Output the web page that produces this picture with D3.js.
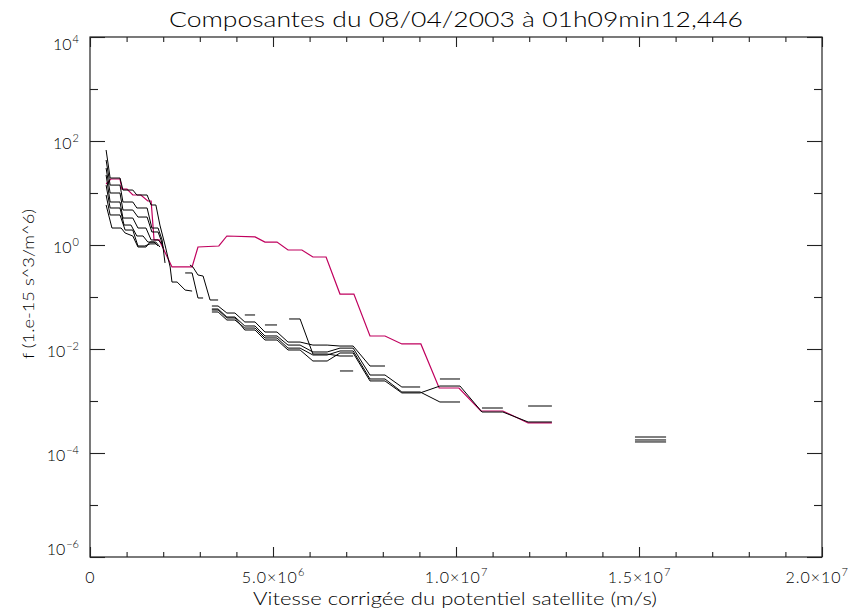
<!DOCTYPE html>
<html><head><meta charset="utf-8">
<script src="https://cdn.jsdelivr.net/npm/d3@7"></script>
<style>
html,body{margin:0;padding:0;background:#fff;}
text{font-family:Lato,"DejaVu Sans",sans-serif;font-weight:300;fill:#000;}
</style></head>
<body><svg id="c" width="859" height="611"></svg>
<script>
// ---------- data ----------
const titleText = "Composantes du 08/04/2003 à 01h09min12,446";
const xTitle = "Vitesse corrigée du potentiel satellite (m/s)";
const yTitle = "f (1.e-15 s^3/m^6)";
const V_UNIT = 1e6; // velocities below are in 1e6 m/s

const xMajor = [0, 5, 10, 15, 20];
const xMinor = [1,2,3,4,6,7,8,9,11,12,13,14,16,17,18,19];
const xTickMant = ["0", "5.0", "1.0", "1.5", "2.0"];
const xTickExp  = [null, "6", "7", "7", "7"];
const yMajorExp = [4, 2, 0, -2, -4, -6];
const yMinorExp = [3, 1, -1, -3, -5];

// magenta component
const velM = [0.44,0.57,0.82,0.87,1.01,1.17,1.39,1.58,1.67,1.75,1.89,2.24,2.79,2.95,3.52,3.74,4.51,4.78,5.11,5.41,5.79,6.09,6.45,6.83,7.21,7.65,8.06,8.52,9.04,9.54,10.08,10.68,11.28,11.97,12.62];
const fM   = [14.9,18.6,18.6,11.9,11.9,9.15,9.15,7.02,7.02,1.25,1.25,0.378,0.378,0.915,0.957,1.49,1.43,1.14,1.14,0.801,0.801,0.588,0.588,0.114,0.114,0.0178,0.0178,0.0125,0.0125,0.00178,0.00178,0.000642,0.000642,0.000378,0.000378];

// black components (null = gap)
const vel1 = [0.44,0.55,0.82,0.90,1.17,1.28,1.56,1.67,1.80,1.91,2.05,2.19,2.24,2.38,2.60,2.79];
const f1   = [67.1,19.4,19.4,11.4,11.4,9.15,9.15,5.88,5.88,2.42,1.0,0.378,0.194,0.194,0.136,0.130];

const vel2 = [0.44,0.55,0.82,0.90,1.17,1.28,1.56,1.69,1.86,1.97,2.05,null,2.60,2.79,2.95,3.09];
const f2   = [43.1,14.2,14.2,6.71,6.71,5.15,5.15,2.12,2.12,1.25,0.451,null,0.290,0.290,0.0957,0.0957];

const vel3 = [0.44,0.55,0.82,0.90,1.17,1.31,1.56,1.69,1.86,1.94,2.00,null,2.73,2.81,2.95,3.09,3.28,3.50];
const f3   = [30.2,10.0,10.0,4.71,4.71,3.45,3.45,1.78,1.78,1.25,0.876,null,0.413,0.378,0.265,0.253,0.0876,0.0876];

const vel4 = [0.44,0.55,0.82,0.90,1.17,1.31,1.53,1.67,1.86,1.97,null,3.33,3.50,3.74,3.96,4.23,4.51,4.78,5.11,5.41,5.74,6.09,6.48,6.83,7.19,7.65,8.06];
const f4   = [22.2,6.71,6.71,3.30,3.30,2.12,2.12,1.25,1.25,1.05,null,0.0671,0.0671,0.0492,0.0492,0.0331,0.0331,0.0212,0.0212,0.0136,0.0136,0.0119,0.0119,0.0114,0.0114,0.00471,0.00471];

const vel5 = [0.44,0.55,0.82,0.93,1.12,1.28,1.45,1.58,1.75,1.86,null,3.33,3.50,3.74,3.96,4.23,4.51,4.78,5.11,5.41,5.74,6.09,6.48,6.83,7.19,7.65,8.06,8.52,9.02,null,9.56,10.11,null,11.97,12.62,null,14.89,15.74];
const f5   = [14.2,5.15,5.15,2.42,2.42,1.49,1.49,1.14,1.14,0.957,null,0.0588,0.0588,0.0412,0.0412,0.0277,0.0277,0.0178,0.0178,0.0119,0.0119,0.00876,0.00876,0.0104,0.0104,0.00316,0.00316,0.00186,0.00186,null,0.00265,0.00265,null,0.000801,0.000801,null,0.000203,0.000203];

const vel6 = [0.44,0.55,0.82,0.96,1.17,1.31,1.50,1.64,1.80,null,3.33,3.50,3.74,3.96,4.23,4.51,4.78,5.11,5.41,5.74,6.09,6.48,6.83,7.19,7.65,8.06,8.52,9.02,9.56,10.11,null,10.71,11.28,null,14.89,15.74];
const f6   = [9.15,3.78,3.78,1.94,1.94,0.957,0.957,1.05,1.05,null,0.0515,0.0515,0.0361,0.0361,0.0253,0.0253,0.0163,0.0163,0.0104,0.0104,0.00767,0.00767,0.00916,0.00916,0.00265,0.00265,0.00149,0.00149,0.000957,0.000957,null,0.000733,0.000733,null,0.000178,0.000178];

const vel7 = [0.44,0.60,0.85,0.96,1.17,1.31,1.53,1.64,1.80,1.91,null,3.33,3.50,3.74,3.96,4.23,4.51,4.78,5.11,5.41,5.74,6.09,6.48,6.83,7.19,7.65,8.06,8.52,9.02,9.56,10.11,10.71,11.28,11.97,12.62,null,14.89,15.74];
const f7   = [5.88,2.12,2.12,1.70,1.49,0.915,0.915,1.14,1.14,0.915,null,0.0562,0.0562,0.0395,0.0395,0.0232,0.0232,0.0149,0.0149,0.00957,0.00957,0.00588,0.00588,0.00838,0.00838,0.00243,0.00243,0.00143,0.00143,0.00194,0.00194,0.000614,0.000614,0.000395,0.000395,null,0.000163,0.000163];

const vel8 = [4.23,4.51,null,4.78,5.11,null,5.44,5.74,6.09,6.48,6.83,7.19,null,6.83,7.19];
const f8   = [0.0451,0.0451,null,0.0290,0.0290,null,0.0378,0.0378,0.00801,0.00801,0.00733,0.00733,null,0.00378,0.00378];

// ---------- drawing ----------
const svg = d3.select("#c");
const L = 90, R = 822, T = 37, B = 557;
const x = d3.scaleLinear().domain([0, 20 * V_UNIT]).range([L, R]);
const y = d3.scaleLog().domain([1e-6, 1e4]).range([B, T]);

const plot = svg.append("g");
plot.append("clipPath").attr("id","clip").append("rect")
  .attr("x", L).attr("y", T).attr("width", R - L).attr("height", B - T);

function toPts(v, f) {
  return v.map((d, i) => d == null || f[i] == null ? null : [d * V_UNIT, f[i]]);
}
const line = d3.line().defined(d => d != null).x(d => x(d[0])).y(d => y(d[1]));

const lines = plot.append("g").attr("clip-path", "url(#clip)").attr("fill", "none");
lines.append("path").attr("d", line(toPts(velM, fM)))
  .attr("stroke", "#c0005e").attr("stroke-width", 1.2);
const blacks = [[vel1,f1],[vel2,f2],[vel3,f3],[vel4,f4],[vel5,f5],[vel6,f6],[vel7,f7],[vel8,f8]];
blacks.forEach(([v, f]) => {
  lines.append("path").attr("d", line(toPts(v, f)))
    .attr("stroke", "#000").attr("stroke-width", 1);
});

// frame
svg.append("rect").attr("x", L).attr("y", T).attr("width", R - L).attr("height", B - T)
  .attr("fill", "none").attr("stroke", "#222").attr("stroke-width", 1.2);

// ticks via d3 axes
function axisG(gen, tx, ty) {
  const g = svg.append("g").attr("transform", `translate(${tx},${ty})`).call(gen);
  g.select(".domain").remove();
  g.selectAll("line").attr("stroke", "#222").attr("stroke-width", 1.1);
  g.selectAll("text").remove();
  return g;
}
const xMajV = xMajor.map(d => d * V_UNIT), xMinV = xMinor.map(d => d * V_UNIT);
axisG(d3.axisBottom(x).tickValues(xMajV).tickSize(-10).tickFormat(""), 0, B);
axisG(d3.axisBottom(x).tickValues(xMinV).tickSize(-5).tickFormat(""), 0, B);
axisG(d3.axisTop(x).tickValues(xMajV).tickSize(-10).tickFormat(""), 0, T);
axisG(d3.axisTop(x).tickValues(xMinV).tickSize(-5).tickFormat(""), 0, T);
const yMajV = yMajorExp.map(e => Math.pow(10, e)), yMinV = yMinorExp.map(e => Math.pow(10, e));
axisG(d3.axisLeft(y).tickValues(yMajV).tickSize(-15).tickFormat(""), L, 0);
axisG(d3.axisLeft(y).tickValues(yMinV).tickSize(-8).tickFormat(""), L, 0);
axisG(d3.axisRight(y).tickValues(yMajV).tickSize(-15).tickFormat(""), R, 0);
axisG(d3.axisRight(y).tickValues(yMinV).tickSize(-8).tickFormat(""), R, 0);

// y tick labels
yMajorExp.forEach((e, i) => {
  let cy = y(yMajV[i]) + 2;
  cy = Math.max(44, Math.min(549, cy));
  const t = svg.append("text").attr("x", 79).attr("y", cy + 6)
    .attr("text-anchor", "end").attr("font-size", 16);
  t.append("tspan").text("10");
  t.append("tspan").attr("dx", 1).attr("dy", -7).attr("font-size", 11).text(e < 0 ? "\u2212" + (-e) : String(e));
});

// x tick labels
xMajor.forEach((d, i) => {
  const t = svg.append("text").attr("y", 583).attr("font-size", 16).attr("text-anchor", "middle");
  t.append("tspan").attr("letter-spacing", xTickExp[i] ? 1 : 0)
    .text(xTickExp[i] ? xTickMant[i] + "\u00d710" : xTickMant[i]);
  if (xTickExp[i]) {
    t.append("tspan").attr("dx", 0).attr("dy", -7).attr("font-size", 11).text(xTickExp[i]);
  }
  const w = t.node().getComputedTextLength();
  let cx = x(d * V_UNIT);
  if (cx + w / 2 > 848) cx = 848 - w / 2;
  t.attr("x", cx);
});

// titles
svg.append("text").attr("x", (L + R) / 2).attr("y", 27).attr("text-anchor", "middle")
  .attr("font-size", 21).attr("textLength", 574).attr("lengthAdjust", "spacingAndGlyphs").text(titleText);
svg.append("text").attr("x", (L + R) / 2 - 1).attr("y", 605).attr("text-anchor", "middle")
  .attr("font-size", 17).attr("textLength", 404).attr("lengthAdjust", "spacingAndGlyphs").text(xTitle);
svg.append("text").attr("transform", "translate(34,284) rotate(-90)").attr("text-anchor", "middle")
  .attr("font-size", 16).attr("textLength", 150).attr("lengthAdjust", "spacingAndGlyphs").text(yTitle);
</script></body></html>
